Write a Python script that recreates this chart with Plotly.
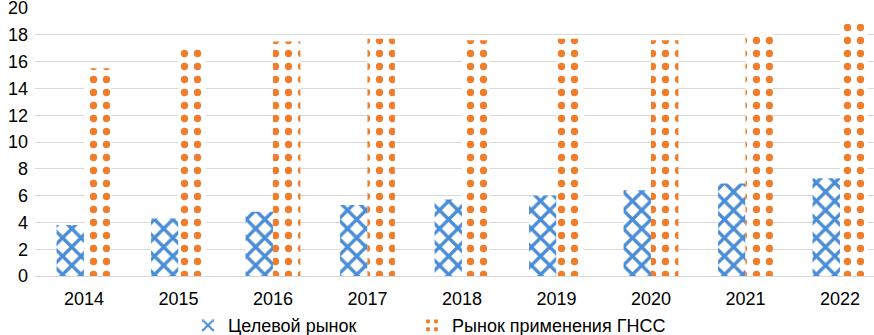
import plotly.graph_objects as go

years = ["2014", "2015", "2016", "2017", "2018", "2019", "2020", "2021", "2022"]
target_market = [3.8, 4.3, 4.8, 5.3, 5.7, 6.0, 6.4, 6.9, 7.3]
gnss_market = [15.5, 17.0, 17.5, 17.7, 17.6, 17.7, 17.6, 18.1, 18.8]
series_names = ["Целевой рынок", "Рынок применения ГНСС"]

BLUE = "#4a8dd6"
ORANGE = "#f07d2c"

fig = go.Figure()
fig.add_trace(go.Bar(
    x=years, y=target_market, name=series_names[0], legend="legend",
    marker=dict(color="white", line=dict(width=0),
                pattern=dict(shape="x", fgcolor=BLUE, bgcolor="white", fgopacity=1,
                             size=13, solidity=0.45, fillmode="replace")),
))
fig.add_trace(go.Bar(
    x=years, y=gnss_market, name=series_names[1], legend="legend2",
    marker=dict(color="white", line=dict(width=0),
                pattern=dict(shape=".", fgcolor=ORANGE, bgcolor="white", fgopacity=1,
                             size=13, solidity=0.25, fillmode="replace")),
))

leg_common = dict(orientation="h", xref="container", yref="paper",
                  xanchor="left", y=-0.185, yanchor="middle",
                  font=dict(size=18), itemwidth=30, bgcolor="rgba(0,0,0,0)")

fig.update_layout(
    width=874, height=335,
    margin=dict(l=35, r=0, t=8, b=59, autoexpand=False),
    paper_bgcolor="white", plot_bgcolor="white",
    barmode="group", bargap=0.42, bargroupgap=0,
    font=dict(family="Liberation Sans, Arial, sans-serif", size=18, color="#000000"),
    showlegend=True,
    legend=dict(x=188 / 874, **leg_common),
    legend2=dict(x=412 / 874, **leg_common),
    xaxis=dict(type="category", range=[-0.518, 8.36], showgrid=False,
               showline=True, linecolor="#d9d9d9", linewidth=1,
               ticks="", tickfont=dict(size=18), ticklabelstandoff=6),
    yaxis=dict(range=[0, 20], tickvals=list(range(0, 21, 2)), showgrid=True,
               gridcolor="#d9d9d9", gridwidth=1, zeroline=False, showline=False,
               ticks="", tickfont=dict(size=18), ticklabelstandoff=6,
               ticklabeloverflow="allow", automargin=False),
)

fig.write_html("out.html", config={"displayModeBar": False},
               post_script="document.body.style.margin='0';document.body.style.overflow='hidden';")
